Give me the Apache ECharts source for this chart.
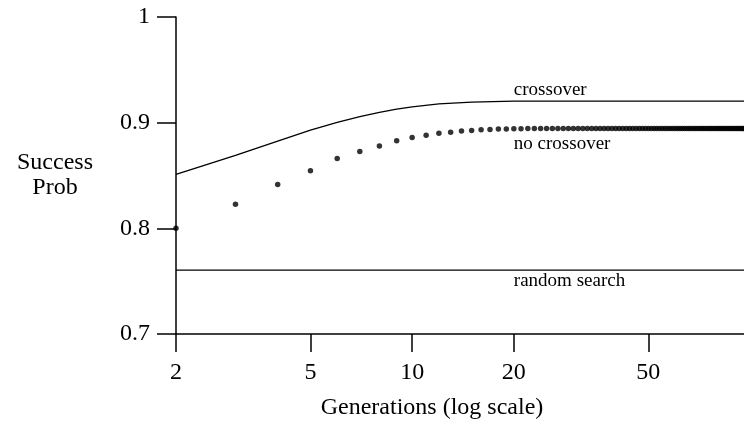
<!DOCTYPE html>
<html>
<head>
<meta charset="utf-8">
<script src="https://cdn.jsdelivr.net/npm/echarts@6/dist/echarts.min.js"></script>
<style>
  html, body { margin: 0; padding: 0; background: #fff; }
  #chart { width: 744px; height: 429px; }
</style>
</head>
<body>
<div id="chart"></div>
<script>
  // x tick labels (log scale)
  const xTicks = [2, 5, 10, 20, 50];

  // crossover curve: [generation, success prob]
  const crossover = [
    [2, 0.851], [3, 0.869], [4, 0.8825], [5, 0.893], [6, 0.9003], [7, 0.9058],
    [8, 0.9098], [9, 0.9128], [10, 0.915], [12, 0.9177], [15, 0.9195],
    [20, 0.9203], [96, 0.9203]
  ];

  // no crossover, one dot per generation starting at 2
  const noCrossover = [
    0.800, 0.8227, 0.8416, 0.8546, 0.866, 0.8726, 0.878, 0.883, 0.886, 0.888,
    0.890, 0.891, 0.892, 0.8927, 0.8932, 0.8936, 0.8939, 0.8941, 0.8942, 0.8943,
    0.8944, 0.8945, 0.8945, 0.8945, 0.8945, 0.8945, 0.8945, 0.8945, 0.8945, 0.8945,
    0.8945, 0.8945, 0.8945, 0.8945, 0.8945, 0.8945, 0.8945, 0.8945, 0.8945, 0.8945,
    0.8945, 0.8945, 0.8945, 0.8945, 0.8945, 0.8945, 0.8945, 0.8945, 0.8945, 0.8945,
    0.8945, 0.8945, 0.8945, 0.8945, 0.8945, 0.8945, 0.8945, 0.8945, 0.8945, 0.8945,
    0.8945, 0.8945, 0.8945, 0.8945, 0.8945, 0.8945, 0.8945, 0.8945, 0.8945, 0.8945,
    0.8945, 0.8945, 0.8945, 0.8945, 0.8945, 0.8945, 0.8945, 0.8945, 0.8945, 0.8945,
    0.8945, 0.8945, 0.8945, 0.8945, 0.8945, 0.8945, 0.8945, 0.8945, 0.8945, 0.8945,
    0.8945, 0.8945, 0.8945, 0.8945, 0.8945
  ];

  // random search baseline
  const randomSearch = [[2, 0.7605], [96, 0.7605]];

  const FONT = 'Liberation Serif';
  const chart = echarts.init(document.getElementById('chart'));

  function tag(text, coord, dy) {
    return {
      symbol: 'circle',
      symbolSize: 0,
      data: [{ coord: coord }],
      label: {
        show: true,
        position: 'right',
        distance: 0,
        offset: [0, dy],
        formatter: text,
        color: '#000',
        fontFamily: FONT,
        fontSize: 19
      }
    };
  }

  chart.setOption({
    animation: false,
    grid: { left: 176, right: 0, top: 17, bottom: 95 },
    xAxis: {
      type: 'log',
      logBase: 10,
      min: 2,
      max: 96,
      name: 'Generations (log scale)',
      nameLocation: 'middle',
      nameGap: 62,
      nameTextStyle: { color: '#000', fontFamily: FONT, fontSize: 24, padding: [0, 56, 0, 0] },
      axisLine: { onZero: false, lineStyle: { color: '#000', width: 1.5 } },
      axisTick: { length: 18, lineStyle: { color: '#000', width: 1.5 }, customValues: xTicks },
      axisLabel: { color: '#000', fontFamily: FONT, fontSize: 24, margin: 27, customValues: xTicks },
      splitLine: { show: false },
      minorTick: { show: false }
    },
    yAxis: {
      type: 'value',
      min: 0.7,
      max: 1,
      interval: 0.1,
      name: 'Success\nProb',
      nameLocation: 'middle',
      nameRotate: 0,
      nameGap: 121,
      nameTextStyle: { color: '#000', fontFamily: FONT, fontSize: 24, lineHeight: 25, align: 'center', padding: [0, 0, 12, 0] },
      axisLine: { show: true, lineStyle: { color: '#000', width: 1.5 } },
      axisTick: { show: true, length: 19, lineStyle: { color: '#000', width: 1.5 } },
      axisLabel: { color: '#000', fontFamily: FONT, fontSize: 24, margin: 26 },
      splitLine: { show: false }
    },
    series: [
      {
        name: 'crossover',
        type: 'line',
        data: crossover,
        showSymbol: false,
        lineStyle: { color: '#000', width: 1.3 },
        markPoint: tag('crossover', [20, 0.9203], -11)
      },
      {
        name: 'no crossover',
        type: 'scatter',
        data: noCrossover.map((v, i) => [i + 2, v]),
        symbolSize: 5.5,
        clip: false,
        itemStyle: { color: '#000' },
        markPoint: tag('no crossover', [20, 0.8945], 16)
      },
      {
        name: 'random search',
        type: 'line',
        data: randomSearch,
        showSymbol: false,
        lineStyle: { color: '#000', width: 1.3 },
        markPoint: tag('random search', [20, 0.7605], 11)
      }
    ]
  });
</script>
</body>
</html>
